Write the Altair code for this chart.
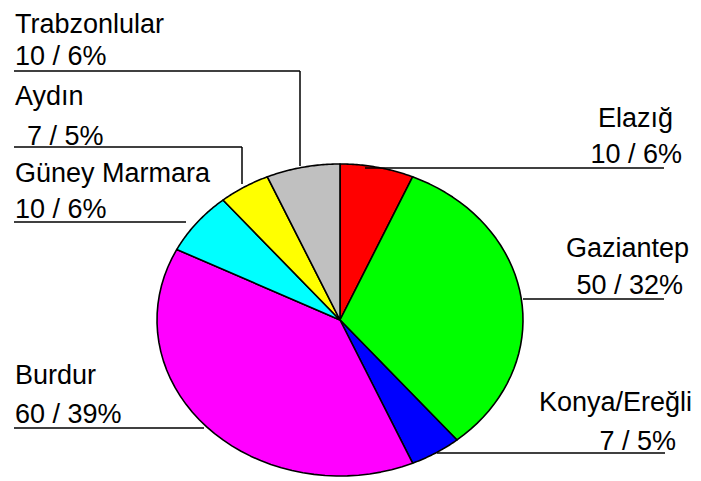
import altair as alt
import pandas as pd

# ---- data ----
names = ["Elazığ", "Gaziantep", "Konya/Ereğli", "Burdur", "Güney Marmara", "Aydın", "Trabzonlular"]
values = [10, 50, 7, 60, 10, 7, 10]
percents = [6, 32, 5, 39, 6, 5, 6]
colors = ["#FF0000", "#00FF00", "#0000FF", "#FF00FF", "#00FFFF", "#FFFF00", "#C0C0C0"]

# ---- layout (page pixel coordinates) ----
W, H = 685, 470
CX, CY, RX, RY = 340, 320, 183, 156
FONT = "Liberation Sans"
FS = 27

# name -> (align, x_title, y_title, x_value, y_value)
label_pos = {
    "Trabzonlular": ("left", 15, 33, 15, 65),
    "Aydın": ("left", 15, 105, 27, 145),
    "Güney Marmara": ("left", 15, 182, 15, 218),
    "Burdur": ("left", 15, 384, 15, 423),
    "Elazığ": ("right", 673, 127, 682, 163),
    "Gaziantep": ("right", 689, 257, 683, 294),
    "Konya/Ereğli": ("right", 692, 411, 676, 450),
}
leader_segments = [
    (14, 71, 300, 71), (300, 71, 300, 166),
    (14, 147, 242, 147), (242, 147, 242, 184),
    (14, 222, 186, 222),
    (14, 428, 204, 428),
    (437, 453, 665, 453),
    (523, 299, 664, 299),
    (365, 168, 664, 168),
]

xs = alt.Scale(domain=[8, 8 + W], nice=False, zero=False)
ys = alt.Scale(domain=[8, 8 + H], nice=False, zero=False, reverse=True)

pie_df = pd.DataFrame({"name": names, "value": values, "idx": list(range(len(names)))})

pie = (
    alt.Chart(pie_df)
    .transform_joinaggregate(total="sum(value)")
    .transform_window(cum="sum(value)", sort=[alt.SortField("idx")])
    .transform_calculate(
        a0="2*PI*(datum.cum - datum.value)/datum.total",
        a1="2*PI*datum.cum/datum.total",
        pts="sequence(0, 43)",
    )
    .transform_flatten(["pts"])
    .transform_calculate(
        t="clamp((datum.pts - 1)/40, 0, 1)",
        inner="datum.pts == 0 || datum.pts == 42",
    )
    .transform_calculate(ang="datum.a0 + (datum.a1 - datum.a0)*datum.t")
    .transform_calculate(
        px=f"datum.inner ? {CX} : {CX} + {RX}*sin(datum.ang)",
        py=f"datum.inner ? {CY} : {CY} - {RY}*cos(datum.ang)",
    )
    .mark_line(stroke="black", strokeWidth=1.6, strokeJoin="round")
    .encode(
        x=alt.X("px:Q", scale=xs, axis=None),
        y=alt.Y("py:Q", scale=ys, axis=None),
        order=alt.Order("pts:Q"),
        detail="name:N",
        fill=alt.Fill("name:N", scale=alt.Scale(domain=names, range=colors), legend=None),
    )
)

seg_df = pd.DataFrame(leader_segments, columns=["x1", "y1", "x2", "y2"])
leaders = (
    alt.Chart(seg_df)
    .mark_rule(color="black", strokeWidth=1.5)
    .encode(
        x=alt.X("x1:Q", scale=xs, axis=None),
        y=alt.Y("y1:Q", scale=ys, axis=None),
        x2="x2:Q",
        y2="y2:Q",
    )
)

rows = []
for n, v, p in zip(names, values, percents):
    al, xt, yt, xv, yv = label_pos[n]
    rows.append({"txt": n, "x": xt, "y": yt, "align": al})
    rows.append({"txt": f"{v} / {p}%", "x": xv, "y": yv, "align": al})
txt_df = pd.DataFrame(rows)

def text_layer(al):
    return (
        alt.Chart(txt_df)
        .transform_filter(alt.datum.align == al)
        .mark_text(align=al, baseline="alphabetic", font=FONT, fontSize=FS, color="black")
        .encode(
            x=alt.X("x:Q", scale=xs, axis=None),
            y=alt.Y("y:Q", scale=ys, axis=None),
            text="txt:N",
        )
    )

chart = (
    alt.layer(pie, leaders, text_layer("left"), text_layer("right"))
    .properties(width=W, height=H, padding=0, autosize=alt.AutoSizeParams(type="none"),
                background="white")
    .configure_view(stroke=None)
)

chart.save("out.html", embed_options={"renderer": "svg", "actions": False})
